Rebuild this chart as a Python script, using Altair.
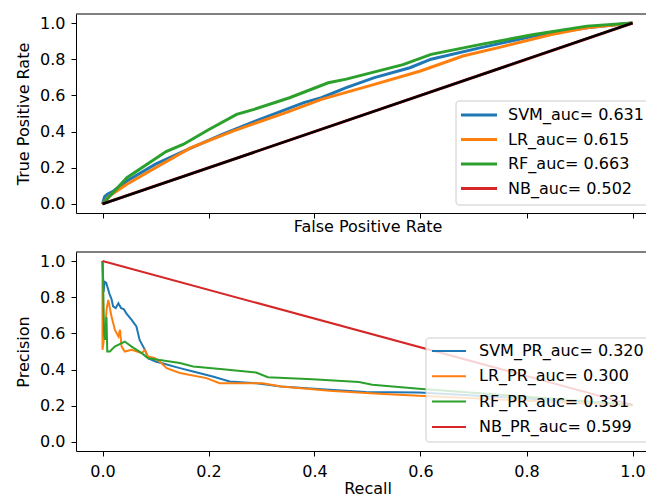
import altair as alt
import pandas as pd

MODELS = ["SVM", "LR", "RF", "NB"]
COLORS = ["#1f77b4", "#ff7f0e", "#2ca02c", "#d62728"]
ROC_AUC = ["0.631", "0.615", "0.663", "0.502"]
PR_AUC = ["0.320", "0.300", "0.331", "0.599"]
TICKS = [0.0, 0.2, 0.4, 0.6, 0.8, 1.0]

# ROC curves (false positive rate, true positive rate)
svm_fpr = [0, 0.004, 0.01, 0.02, 0.046, 0.1, 0.16, 0.226, 0.313, 0.38, 0.413, 0.46, 0.513, 0.58, 0.62, 0.714, 0.814, 0.914, 1.0]
svm_tpr = [0, 0.04, 0.055, 0.07, 0.127, 0.22, 0.30, 0.385, 0.486, 0.56, 0.587, 0.643, 0.698, 0.753, 0.80, 0.864, 0.928, 0.974, 1.0]
lr_fpr = [0, 0.013, 0.046, 0.1, 0.166, 0.246, 0.346, 0.413, 0.513, 0.6, 0.68, 0.747, 0.847, 0.914, 1.0]
lr_tpr = [0, 0.044, 0.109, 0.2, 0.31, 0.403, 0.505, 0.578, 0.661, 0.735, 0.818, 0.864, 0.937, 0.974, 1.0]
rf_fpr = [0, 0.046, 0.12, 0.153, 0.2, 0.253, 0.286, 0.353, 0.426, 0.46, 0.567, 0.62, 0.714, 0.814, 0.914, 1.0]
rf_tpr = [0, 0.145, 0.29, 0.33, 0.41, 0.495, 0.523, 0.587, 0.67, 0.69, 0.77, 0.827, 0.882, 0.937, 0.983, 1.0]
nb_fpr = [0, 1.0]
nb_tpr = [0, 1.0]
diag_x = [0, 1.0]
diag_y = [0, 1.0]

# Precision-recall curves (recall, precision)
svm_rec = [0, 0.002, 0.004, 0.007, 0.01, 0.013, 0.017, 0.02, 0.025, 0.03, 0.035, 0.04, 0.045, 0.055, 0.064, 0.07, 0.08, 0.086, 0.1, 0.111, 0.146, 0.171, 0.208, 0.24, 0.29, 0.337, 0.428, 0.497, 0.597, 0.8, 1.0]
svm_prec = [1.0, 0.83, 0.886, 0.88, 0.85, 0.82, 0.79, 0.75, 0.74, 0.766, 0.74, 0.735, 0.711, 0.675, 0.638, 0.564, 0.509, 0.463, 0.445, 0.436, 0.408, 0.389, 0.362, 0.334, 0.325, 0.307, 0.288, 0.276, 0.274, 0.24, 0.205]
lr_rec = [0, 0.0, 0.004, 0.008, 0.011, 0.017, 0.0235, 0.03, 0.033, 0.036, 0.042, 0.055, 0.074, 0.08, 0.086, 0.099, 0.111, 0.121, 0.146, 0.196, 0.221, 0.302, 0.337, 0.428, 0.521, 0.597, 0.8, 1.0]
lr_prec = [1.0, 0.509, 0.6, 0.739, 0.785, 0.693, 0.619, 0.583, 0.62, 0.527, 0.5, 0.509, 0.491, 0.509, 0.472, 0.463, 0.436, 0.408, 0.381, 0.353, 0.325, 0.325, 0.307, 0.283, 0.266, 0.255, 0.228, 0.202]
rf_rec = [0, 0.001, 0.003, 0.005, 0.0075, 0.009, 0.014, 0.023, 0.042, 0.055, 0.074, 0.086, 0.105, 0.146, 0.171, 0.227, 0.29, 0.312, 0.396, 0.484, 0.509, 0.597, 0.8, 1.0]
rf_prec = [1.0, 0.91, 0.6, 0.564, 0.69, 0.5, 0.5, 0.527, 0.555, 0.527, 0.491, 0.463, 0.454, 0.436, 0.417, 0.402, 0.384, 0.358, 0.347, 0.331, 0.316, 0.294, 0.25, 0.206]
nb_rec = [0, 1.0]
nb_prec = [1.0, 0.205]

ROC = {"SVM": (svm_fpr, svm_tpr), "LR": (lr_fpr, lr_tpr), "RF": (rf_fpr, rf_tpr), "NB": (nb_fpr, nb_tpr)}
PR = {"SVM": (svm_rec, svm_prec), "LR": (lr_rec, lr_prec), "RF": (rf_rec, rf_prec), "NB": (nb_rec, nb_prec)}

W = 583
H1 = 199
H2 = 199
FONT = "DejaVu Sans"
xs = alt.Scale(domain=[-0.05, 1.05], nice=False, zero=False)
ys = alt.Scale(domain=[-0.05, 1.05], nice=False, zero=False)
dummy = pd.DataFrame({"a": [0]})


def frame(xs_, ys_):
    return pd.DataFrame({"x": xs_, "y": ys_, "i": list(range(len(xs_)))})


def curve(df, color, sw, xaxis, yaxis):
    return alt.Chart(df).mark_line(color=color, strokeWidth=sw).encode(
        x=alt.X("x:Q", scale=xs, axis=xaxis),
        y=alt.Y("y:Q", scale=ys, axis=yaxis),
        order=alt.Order("i:Q"),
    )


def legend(labels, box_x, box_y0, box_y1, sym_x0, sym_x1, text_x, row_y0, row_dy, sw):
    layers = [
        alt.Chart(dummy).mark_rect(fill="white", fillOpacity=0.8, stroke="#cccccc",
                                   strokeWidth=1, cornerRadius=3).encode(
            x=alt.value(box_x), x2=alt.value(W), y=alt.value(box_y0), y2=alt.value(box_y1))
    ]
    for k, (lab, col) in enumerate(zip(labels, COLORS)):
        ry = row_y0 + k * row_dy
        layers.append(alt.Chart(dummy).mark_rule(color=col, strokeWidth=sw).encode(
            x=alt.value(sym_x0), x2=alt.value(sym_x1), y=alt.value(ry)))
        layers.append(alt.Chart(dummy).mark_text(text=lab, align="left", baseline="middle",
                                                 font=FONT, fontSize=16, color="black").encode(
            x=alt.value(text_x), y=alt.value(ry)))
    return layers


def spine_top():
    return alt.Chart(dummy).mark_rule(color="black", strokeWidth=1).encode(
        x=alt.value(0), x2=alt.value(W), y=alt.value(0))


# ---- top panel: ROC
x_top = alt.Axis(values=TICKS, labels=False, title="False Positive Rate", titlePadding=0)
y_top = alt.Axis(values=TICKS, format=".1f", title="True Positive Rate")
top_layers = [curve(frame(*ROC[m]), c, 3, x_top, y_top) for m, c in zip(MODELS, COLORS)]
top_layers.append(curve(frame(diag_x, diag_y), "black", 2.5, x_top, y_top))
top_layers.append(spine_top())
top_layers += legend([f"{m}_auc= {a}" for m, a in zip(MODELS, ROC_AUC)],
                     380, 87, 191, 385, 421, 432, 101, 24.5, 3)
top = alt.layer(*top_layers).properties(width=W, height=H1)

# ---- bottom panel: precision-recall
x_bot = alt.Axis(values=TICKS, format=".1f", title="Recall", labelPadding=7, titlePadding=1)
y_bot = alt.Axis(values=TICKS, format=".1f", title="Precision")
bot_layers = [curve(frame(*PR[m]), c, 2, x_bot, y_bot) for m, c in zip(MODELS, COLORS)]
bot_layers.append(spine_top())
bot_layers += legend([f"{m}_PR_auc= {a}" for m, a in zip(MODELS, PR_AUC)],
                     350, 86, 190, 356, 390, 403, 99, 25.3, 2)
bot = alt.layer(*bot_layers).properties(width=W, height=H2)

chart = alt.vconcat(top, bot, spacing=16).properties(
    padding={"left": 7, "top": 5, "right": -14, "bottom": 0}
).configure_axis(
    domainColor="black", tickColor="black", labelColor="black", titleColor="black",
    labelFont=FONT, titleFont=FONT, labelFontSize=16, titleFontSize=16,
    titleFontWeight="normal", grid=False, tickSize=5, domainWidth=1, tickWidth=1,
    labelPadding=6, titlePadding=8,
).configure_view(stroke=None)

chart.save("out.html", embed_options={"renderer": "svg", "actions": False})
